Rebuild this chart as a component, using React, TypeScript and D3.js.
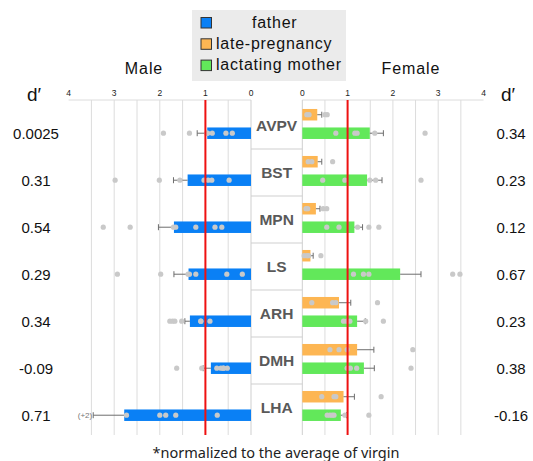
import React from 'react';
import * as d3 from 'd3';

const regions = ['AVPV', 'BST', 'MPN', 'LS', 'ARH', 'DMH', 'LHA'];
const dPrimeMale = ['0.0025', '0.31', '0.54', '0.29', '0.34', '-0.09', '0.71'];
const dPrimeFemale = ['0.34', '0.23', '0.12', '0.67', '0.23', '0.38', '-0.16'];

// father (male side)
const fatherMean = [0.96, 1.39, 1.69, 1.37, 1.34, 0.88, 2.78];
const fatherSem = [0.22, 0.31, 0.34, 0.32, 0.11, 0.17, 0.68];
const fatherDots = [
  [1.92, 1.35, 0.97, 0.95, 0.85, 0.55, 0.41],
  [2.98, 2.01, 1.56, 1.03, 0.94, 0.86, 0.48],
  [3.24, 2.65, 1.7, 1.65, 1.21, 0.79, 0.64],
  [2.93, 1.98, 1.38, 1.35, 1.21, 0.53, 0.19],
  [1.78, 1.72, 1.67, 1.52, 1.1, 1.1, 0.9],
  [1.63, 1.08, 0.75, 0.66, 0.61, 0.6, 0.52],
  [2.73, 2.0, 1.87, 1.65, 0.74],
];
const fatherOffscale = ['', '', '', '', '', '', '(+2)'];

// late-pregnancy (female side)
const pregMean = [0.33, 0.34, 0.3, 0.18, 0.81, 1.21, 0.91];
const pregSem = [0.1, 0.09, 0.09, 0.06, 0.26, 0.37, 0.24];
const pregDots = [
  [0.1, 0.15, 0.5, 0.55],
  [0.13, 0.21, 0.67],
  [0.08, 0.12, 0.46, 0.54],
  [0.04, 0.1, 0.14, 0.41],
  [0.21, 0.67, 0.74, 1.66],
  [0.61, 0.81, 0.99, 2.44],
  [0.43, 0.7, 0.74, 1.74],
];

// lactating mother (female side)
const lactMean = [1.49, 1.43, 1.15, 2.16, 1.21, 1.36, 0.85];
const lactSem = [0.3, 0.33, 0.18, 0.46, 0.18, 0.23, 0.13];
const lactDots = [
  [0.74, 1.16, 1.21, 1.6, 2.71],
  [0.45, 0.94, 1.49, 1.62, 2.62],
  [0.54, 0.81, 1.22, 1.47, 1.69],
  [1.13, 1.35, 1.47, 3.32, 3.48],
  [0.91, 0.98, 1.05, 1.4, 1.79],
  [0.99, 1.06, 1.2, 2.4],
  [0.55, 0.61, 0.66, 0.7, 0.94, 1.47],
];

const ticks = [0, 1, 2, 3, 4];
const grid = [0.5, 1.5, 2, 2.5, 3, 3.5];
const legendItems = ['father', 'late-pregnancy', 'lactating mother'];

const BLUE = '#0a80f5';
const ORANGE = '#fdb653';
const GREEN = '#62e85a';
const DOT = '#c9c9c9';
const ERR = '#6e6e6e';
const GRID = '#dcdcdc';
const FONT = '"Liberation Sans", Arial, sans-serif';

const App = () => {
  const width = 533;
  const height = 461;
  const top = 100;
  const bottom = 435;

  const xL = d3.scaleLinear().domain([0, 4]).range([251, 68.6]);
  const xR = d3.scaleLinear().domain([0, 4]).range([302.3, 483.5]);

  const y = d3.scaleBand().domain(regions).range([102, 431]);
  const sub = d3.scaleBand()
    .domain(['preg', 'lact'])
    .range([0, y.step()])
    .paddingInner(0.378)
    .paddingOuter(0.46)
    .align(0.41);
  const bh = sub.bandwidth();

  const errBar = (x0, x1, yc, key) => (
    <g key={key} stroke={ERR} strokeWidth={1}>
      <line x1={x0} x2={x1} y1={yc} y2={yc} />
      <line x1={x1} x2={x1} y1={yc - 3} y2={yc + 3} />
    </g>
  );

  return (
    <svg width={width} height={height} style={{ display: 'block', fontFamily: FONT }}>
      <style>{'body{margin:0}'}</style>
      <rect width={width} height={height} fill="white" />

      {/* legend */}
      <rect x={192} y={10} width={154} height={71} fill="#ebebeb" />
      {legendItems.map((t, i) => (
        <g key={t}>
          <rect x={201} y={17.5 + i * 21.3} width={10.5} height={10.5}
            fill={[BLUE, ORANGE, GREEN][i]} stroke="#333" strokeWidth={1} />
          <text x={i === 0 ? 252 : 216} y={27.5 + i * 21} fontSize={16} letterSpacing={0.75} fill="#111">{t}</text>
        </g>
      ))}

      <text x={144} y={74} fontSize={16} letterSpacing={0.9} textAnchor="middle" fill="#111">Male</text>
      <text x={411} y={74} fontSize={16} letterSpacing={0.9} textAnchor="middle" fill="#111">Female</text>
      <text x={34} y={101} fontSize={19} textAnchor="middle" fill="#111">d′</text>
      <text x={508} y={101} fontSize={19} textAnchor="middle" fill="#111">d′</text>

      {/* grid */}
      {grid.map(g => (
        <g key={g}>
          <line x1={xL(g)} x2={xL(g)} y1={top} y2={bottom} stroke={GRID} />
          <line x1={xR(g)} x2={xR(g)} y1={top} y2={bottom} stroke={GRID} />
        </g>
      ))}
      <line x1={xL(0)} x2={xL(4)} y1={top} y2={top} stroke={GRID} />
      <line x1={xR(0)} x2={xR(4)} y1={top} y2={top} stroke={GRID} />
      {ticks.map(t => (
        <g key={t} fontSize={8.5} fill="#222" textAnchor="middle">
          <text x={xL(t)} y={96}>{t}</text>
          <text x={xR(t)} y={96}>{t}</text>
        </g>
      ))}

      {/* center label column */}
      <line x1={xL(0)} x2={xL(0)} y1={top} y2={bottom} stroke="#cfcfcf" />
      <line x1={xR(0)} x2={xR(0)} y1={top} y2={bottom} stroke="#cfcfcf" />
      {regions.slice(1).map(r => (
        <line key={r} x1={xL(0)} x2={xR(0)} y1={y(r)} y2={y(r)} stroke="#cfcfcf" />
      ))}
      {regions.map(r => (
        <text key={r} x={(xL(0) + xR(0)) / 2} y={y(r) + y.bandwidth() / 2 + 5.5}
          fontSize={15.5} fontWeight="bold" fill="#595959" textAnchor="middle">{r}</text>
      ))}

      {/* bars */}
      {regions.map((r, i) => {
        const yp = y(r) + sub('preg');
        const yl = y(r) + sub('lact');
        return (
          <g key={r}>
            <rect x={xL(fatherMean[i])} y={yl} width={xL(0) - xL(fatherMean[i])} height={bh} fill={BLUE} />
            <rect x={xR(0)} y={yp} width={xR(pregMean[i]) - xR(0)} height={bh} fill={ORANGE} />
            <rect x={xR(0)} y={yl} width={xR(lactMean[i]) - xR(0)} height={bh} fill={GREEN} />
            {errBar(xL(fatherMean[i]), xL(fatherMean[i] + fatherSem[i]), yl + bh / 2, 'ef')}
            {errBar(xR(pregMean[i]), xR(pregMean[i] + pregSem[i]), yp + bh / 2, 'ep')}
            {errBar(xR(lactMean[i]), xR(lactMean[i] + lactSem[i]), yl + bh / 2, 'el')}
            {fatherOffscale[i] && (
              <text x={xL(fatherMean[i] + fatherSem[i]) - 1} y={yl + bh / 2 + 3}
                fontSize={8} fill="#777" textAnchor="end">{fatherOffscale[i]}</text>
            )}
            {fatherDots[i].map((v, j) => (
              <circle key={'f' + j} cx={xL(v)} cy={yl + bh / 2} r={2.6} fill={DOT} />
            ))}
            {pregDots[i].map((v, j) => (
              <circle key={'p' + j} cx={xR(v)} cy={yp + bh / 2} r={2.6} fill={DOT} />
            ))}
            {lactDots[i].map((v, j) => (
              <circle key={'l' + j} cx={xR(v)} cy={yl + bh / 2} r={2.6} fill={DOT} />
            ))}
            <text x={36} y={yl + bh / 2 + 5.5} fontSize={15} textAnchor="middle" fill="#111">{dPrimeMale[i]}</text>
            <text x={511} y={yl + bh / 2 + 5.5} fontSize={15} textAnchor="middle" fill="#111">{dPrimeFemale[i]}</text>
          </g>
        );
      })}

      {/* reference line at 1 */}
      <line x1={xL(1)} x2={xL(1)} y1={top} y2={bottom} stroke="#ee1111" strokeWidth={2} />
      <line x1={xR(1)} x2={xR(1)} y1={top} y2={bottom} stroke="#ee1111" strokeWidth={2} />

      <text x={276} y={458} fontSize={14.5} textAnchor="middle" fill="#222"
        fontFamily='"Noto Sans", sans-serif'>*normalized to the average of virgin</text>
    </svg>
  );
};

export default App;
